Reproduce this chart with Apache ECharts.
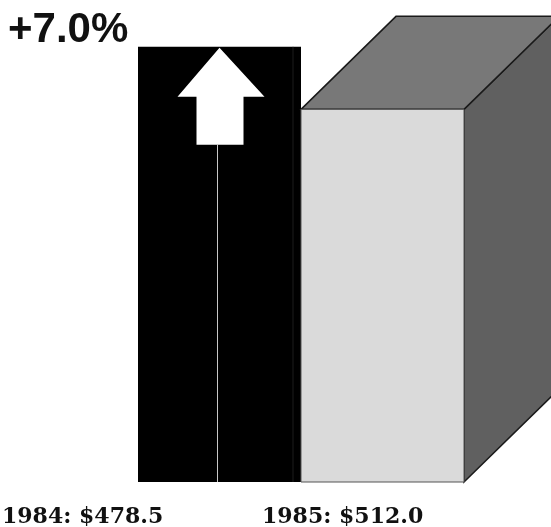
<!DOCTYPE html>
<html>
<head>
<meta charset="utf-8">
<script src="https://cdn.jsdelivr.net/npm/echarts@6/dist/echarts.min.js"></script>
<style>
  html, body { margin: 0; padding: 0; background: #fff; }
  #chart { width: 551px; height: 527px; }
</style>
</head>
<body>
<div id="chart"></div>
<script>
// Spending by year (billions of dollars)
const years = ['1984', '1985'];
const values = [478.5, 512.0];

const change = ((values[1] / values[0]) - 1) * 100;
const changeText = (change >= 0 ? '+' : '') + change.toFixed(1) + '%';

// oblique depth of the 1985 box, in pixels
const DEPTH_X = 95;
const DEPTH_Y = 93;

function renderItem(params, api) {
  const idx = api.value(0);
  const val = api.value(1);
  const top = api.coord([idx, val]);
  const base = api.coord([idx, 0]);
  const band = api.size([1, 0])[0];
  const x0 = top[0] - band / 2;
  const x1 = top[0] + band / 2;
  const yB = base[1];

  if (idx === 0) {
    // flat black bar with an up-arrow cut out of it
    const yT = top[1];
    const cx = top[0];
    return {
      type: 'group',
      children: [
        { type: 'rect', shape: { x: x0, y: yT, width: x1 - x0, height: yB - yT },
          style: { fill: '#000' } },
        { type: 'line', shape: { x1: x1 - 8, y1: yT, x2: x1 - 8, y2: yB },
          style: { stroke: '#1c1c1c', lineWidth: 1 } },
        { type: 'line', shape: { x1: cx - 2, y1: yT + 98, x2: cx - 2, y2: yB },
          style: { stroke: '#c8c8c8', lineWidth: 1 } },
        { type: 'polygon', shape: { points: [
            [cx, yT + 1],
            [cx + 45, yT + 50],
            [cx + 24, yT + 50],
            [cx + 24, yT + 98],
            [cx - 23, yT + 98],
            [cx - 23, yT + 50],
            [cx - 42, yT + 50]
          ] },
          style: { fill: '#fff' } }
      ]
    };
  }

  // 1985: box whose back top edge sits at the value
  const yBack = top[1];
  const yF = yBack + DEPTH_Y;
  const edge = { stroke: '#1a1a1a', lineWidth: 1.5 };
  return {
    type: 'group',
    children: [
      { type: 'polygon', shape: { points: [
          [x1, yF], [x1 + DEPTH_X, yBack], [x1 + DEPTH_X, yB - DEPTH_Y], [x1, yB]
        ] },
        style: Object.assign({ fill: '#606060' }, edge) },
      { type: 'polygon', shape: { points: [
          [x0, yF], [x0 + DEPTH_X, yBack], [x1 + DEPTH_X, yBack], [x1, yF]
        ] },
        style: Object.assign({ fill: '#787878' }, edge) },
      { type: 'rect', shape: { x: x0, y: yF, width: x1 - x0, height: yB - yF },
        style: { fill: '#dadada', stroke: '#555', lineWidth: 1 } }
    ]
  };
}

const chart = echarts.init(document.getElementById('chart'), null, { renderer: 'canvas' });
chart.setOption({
  animation: false,
  backgroundColor: '#fff',
  grid: { left: 138, right: 87, top: 0, bottom: 45 },
  xAxis: {
    type: 'category',
    data: years,
    boundaryGap: true,
    show: false
  },
  yAxis: {
    type: 'value',
    min: 0,
    max: 530,
    show: false
  },
  series: [{
    type: 'custom',
    renderItem: renderItem,
    clip: false,
    data: values.map((v, i) => [i, v])
  }],
  graphic: [
    { type: 'text', left: 8, top: 9,
      style: { text: changeText, font: 'bold 42px "Liberation Sans", Arial, sans-serif', fill: '#111' } },
    { type: 'text', left: 2, top: 506,
      style: { text: years[0] + ': $' + values[0].toFixed(1), font: 'bold 22px "DejaVu Serif", serif', fill: '#111' } },
    { type: 'text', left: 262, top: 506,
      style: { text: years[1] + ': $' + values[1].toFixed(1), font: 'bold 22px "DejaVu Serif", serif', fill: '#111' } }
  ]
});
</script>
</body>
</html>
